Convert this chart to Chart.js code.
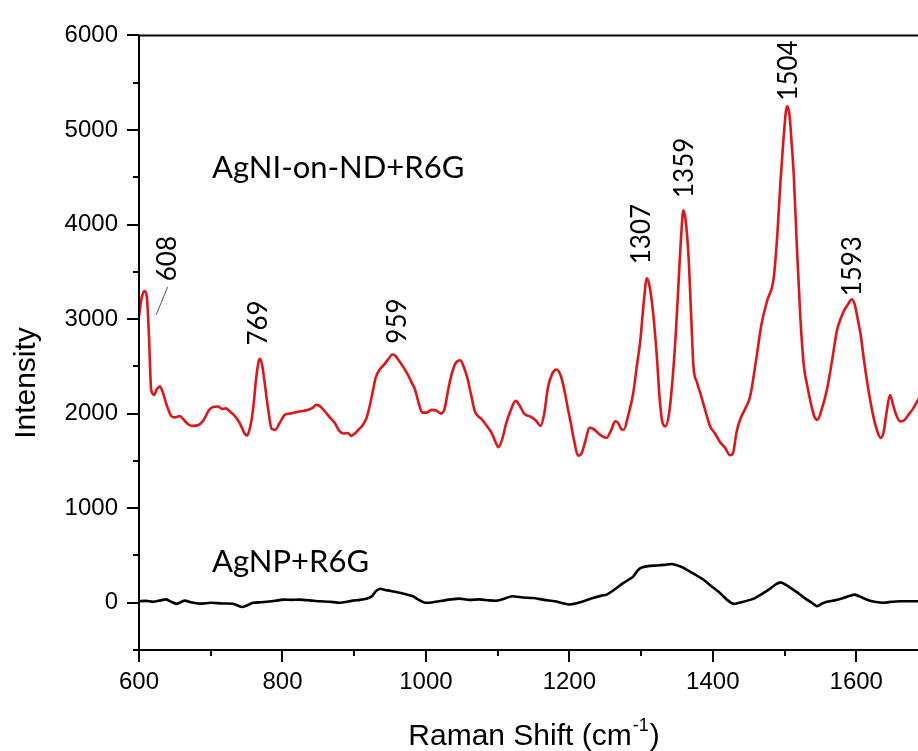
<!DOCTYPE html>
<html>
<head>
<meta charset="utf-8">
<script src="https://cdn.jsdelivr.net/npm/chart.js@4/dist/chart.umd.min.js"></script>
<style>
html,body{margin:0;padding:0;background:#fff;overflow:hidden;}
#clip{width:918px;height:751px;overflow:hidden;}
#wrap{width:960px;height:751px;position:relative;}
</style>
</head>
<body>
<div id="clip"><div id="wrap"><canvas id="c"></canvas></div></div>
<script>
// ---- data ----
const agniShift = [600,603,606,608,611,614,617,621,625,629,633,637,641,645,650,657,663,669,675,683,690,697,703,710,716,721,727,733,738,743,748,751,755,759,763,767,769,772,776,780,785,790,796,803,810,822,830,836,842,847,852,859,866,873,879,885,891,896,901,906,912,917,921,925,930,936,942,948,953,957,961,967,975,980,985,990,995,1001,1008,1015,1021,1026,1031,1036,1042,1048,1053,1058,1063,1068,1072,1078,1084,1092,1097,1101,1106,1112,1118,1125,1131,1137,1145,1153,1160,1165,1170,1176,1182,1188,1193,1198,1202,1207,1212,1217,1222,1228,1233,1240,1246,1252,1258,1264,1268,1272,1276,1282,1289,1294,1299,1304,1308,1312,1317,1322,1326,1330,1334,1339,1343,1348,1352,1356,1359,1362,1366,1370,1373,1378,1384,1390,1396,1403,1410,1417,1424,1428,1433,1438,1445,1452,1460,1468,1476,1485,1490,1494,1498,1502,1504,1507,1510,1513,1517,1522,1527,1531,1537,1542,1546,1552,1559,1566,1573,1578,1583,1588,1594,1598,1602,1606,1611,1617,1623,1629,1634,1638,1642,1647,1651,1656,1661,1667,1673,1679,1686,1692];
const agniIntensity = [3030,3200,3280,3295,3230,2800,2250,2200,2260,2285,2230,2130,2040,1975,1960,1975,1930,1885,1870,1880,1930,2030,2070,2075,2050,2055,2020,1980,1930,1860,1780,1770,1860,2040,2350,2560,2580,2500,2280,2050,1840,1830,1900,1985,2000,2020,2030,2040,2060,2092,2080,2025,1960,1900,1820,1790,1795,1765,1790,1830,1880,1950,2060,2200,2380,2470,2520,2580,2625,2615,2575,2510,2410,2330,2250,2110,2010,2010,2040,2030,2000,2050,2250,2420,2540,2565,2490,2370,2200,2030,1980,1940,1880,1790,1700,1645,1720,1900,2030,2135,2080,2000,1970,1930,1870,2000,2270,2420,2466,2400,2250,2050,1900,1700,1555,1580,1700,1850,1840,1795,1760,1745,1820,1920,1900,1840,1830,1980,2215,2500,2780,3200,3430,3340,3050,2600,2150,1900,1866,2000,2285,2800,3350,3900,4150,4050,3680,3000,2500,2330,2180,2020,1870,1790,1700,1640,1560,1580,1800,1935,2050,2180,2550,2950,3200,3440,3900,4414,4850,5200,5250,5150,4850,4500,3800,3020,2500,2320,2100,1960,1935,2050,2249,2550,2877,3000,3090,3150,3210,3150,3000,2840,2550,2249,2000,1820,1743,1800,2000,2197,2100,1980,1918,1930,1990,2050,2144,2230];

const agnpShift = [600,610,620,630,638,645,652,658,664,672,685,700,715,731,743,750,759,770,778,790,801,812,824,838,852,866,880,890,898,908,917,925,930,936,943,950,960,972,982,990,999,1010,1024,1035,1047,1060,1075,1088,1099,1110,1120,1135,1150,1165,1180,1190,1201,1215,1233,1245,1252,1263,1275,1282,1289,1295,1301,1312,1322,1333,1343,1354,1364,1375,1387,1398,1410,1420,1429,1440,1457,1468,1478,1486,1494,1502,1512,1521,1531,1538,1545,1552,1559,1570,1582,1590,1598,1608,1619,1630,1638,1650,1661,1675,1686,1695];
const agnpIntensity = [15,20,10,25,35,10,-12,5,22,5,-10,0,-8,-10,-45,-30,0,5,10,20,33,30,33,25,15,10,0,10,22,30,43,70,120,148,135,127,110,90,68,30,0,5,22,35,43,30,35,25,22,45,68,55,50,30,15,-5,-19,5,50,75,86,140,207,240,276,340,372,390,393,400,410,385,348,300,243,175,103,30,-12,5,43,90,138,185,215,190,138,90,33,0,-37,-10,10,25,50,70,86,55,22,5,0,10,15,15,15,15];

const seriesNames = ['AgNI-on-ND+R6G', 'AgNP+R6G'];
const xTickValues = [600,800,1000,1200,1400,1600];
const yTickValues = [0,1000,2000,3000,4000,5000,6000];
const peakLabels = ['608','769','959','1307','1359','1504','1593'];
const peakLabelShift = [640,767,961,1301,1361,1505,1595];
const peakLabelIntensity = [3400,2720,2740,3580,4280,5310,3240];

// ---- chart ----
Chart.defaults.font.family = "'Liberation Sans', Arial, sans-serif";
Chart.defaults.color = '#000';

const toXY = (xs, ys) => xs.map((x, i) => ({x, y: ys[i]}));

const decor = {
  id: 'decor',
  afterDraw(chart) {
    const ctx = chart.ctx, a = chart.chartArea, xs = chart.scales.x, ys = chart.scales.y;
    ctx.save();
    ctx.strokeStyle = '#000';
    ctx.lineWidth = 2;
    ctx.lineCap = 'butt';
    ctx.beginPath();
    ctx.moveTo(a.left, a.top); ctx.lineTo(a.right, a.top);
    ctx.moveTo(a.left, a.top - 1); ctx.lineTo(a.left, a.bottom + 1);
    ctx.moveTo(a.left - 1, a.bottom); ctx.lineTo(a.right, a.bottom);
    for (let v = -500; v <= 6000; v += 500) {
      const y = Math.round(ys.getPixelForValue(v));
      const len = v % 1000 === 0 ? 12 : 6;
      ctx.moveTo(a.left - len, y); ctx.lineTo(a.left, y);
    }
    for (let v = 600; v <= 1700; v += 100) {
      const x = Math.round(xs.getPixelForValue(v));
      const len = v % 200 === 0 ? 12 : 6;
      ctx.moveTo(x, a.bottom); ctx.lineTo(x, a.bottom + len);
    }
    ctx.stroke();

    // axis titles
    ctx.fillStyle = '#000';
    ctx.font = "30px 'Liberation Sans', Arial, sans-serif";
    ctx.textAlign = 'center';
    ctx.textBaseline = 'alphabetic';
    ctx.save();
    ctx.translate(35, 383);
    ctx.rotate(-Math.PI / 2);
    ctx.fillText('Intensity', 0, 0);
    ctx.restore();

    const t1 = 'Raman Shift (cm', t2 = '-1', t3 = ')';
    ctx.font = "30px 'Liberation Sans', Arial, sans-serif";
    const w1 = ctx.measureText(t1).width, w3 = ctx.measureText(t3).width;
    ctx.font = "18px 'Liberation Sans', Arial, sans-serif";
    const w2 = ctx.measureText(t2).width;
    const total = w1 + w2 + w3 + 2;
    let x0 = 534 - total / 2;
    const base = 745;
    ctx.textAlign = 'left';
    ctx.font = "30px 'Liberation Sans', Arial, sans-serif";
    ctx.fillText(t1, x0, base);
    ctx.font = "18px 'Liberation Sans', Arial, sans-serif";
    ctx.fillText(t2, x0 + w1 + 1, base - 14);
    ctx.font = "30px 'Liberation Sans', Arial, sans-serif";
    ctx.fillText(t3, x0 + w1 + w2 + 2, base);

    // series labels
    ctx.font = "31px Lato, 'Open Sans', sans-serif";
    ctx.fillText(seriesNames[0], 212, 178);
    ctx.fillText(seriesNames[1], 212, 572);

    // peak labels
    ctx.font = "26px Lato, 'Open Sans', sans-serif";
    ctx.textBaseline = 'middle';
    peakLabels.forEach((lab, i) => {
      const px = xs.getPixelForValue(peakLabelShift[i]);
      const py = ys.getPixelForValue(peakLabelIntensity[i]);
      ctx.save();
      ctx.translate(px, py);
      ctx.rotate(-Math.PI / 2);
      ctx.textAlign = 'left';
      ctx.fillText(lab, 0, 0);
      ctx.restore();
    });
    // leader line for 608
    ctx.strokeStyle = '#555';
    ctx.lineWidth = 1;
    ctx.beginPath();
    ctx.moveTo(xs.getPixelForValue(624), ys.getPixelForValue(3045));
    ctx.lineTo(xs.getPixelForValue(640), ys.getPixelForValue(3340));
    ctx.stroke();
    ctx.restore();
  }
};

new Chart(document.getElementById('c'), {
  type: 'line',
  data: {
    datasets: [
      {
        label: seriesNames[0],
        data: toXY(agniShift, agniIntensity),
        borderColor: 'rgb(226,20,24)',
        borderWidth: 2.6,
        pointRadius: 0,
        cubicInterpolationMode: 'monotone',
        fill: false
      },
      {
        label: seriesNames[1],
        data: toXY(agnpShift, agnpIntensity),
        borderColor: '#000',
        borderWidth: 2.6,
        pointRadius: 0,
        tension: 0.2,
        fill: false
      }
    ]
  },
  options: {
    animation: false,
    responsive: true,
    maintainAspectRatio: false,
    devicePixelRatio: 1,
    layout: { padding: { top: 28, right: 32, left: 0, bottom: 0 } },
    plugins: { legend: { display: false }, tooltip: { enabled: false } },
    scales: {
      x: {
        type: 'linear',
        min: 600, max: 1700,
        grid: { display: false, drawTicks: false },
        border: { display: false },
        afterBuildTicks: s => { s.ticks = xTickValues.map(v => ({ value: v })); },
        afterFit: s => { s.height = 101; },
        ticks: { padding: 18, font: { size: 24 }, color: '#000', maxRotation: 0, autoSkip: false, callback: v => String(v) }
      },
      y: {
        type: 'linear',
        min: -500, max: 6000,
        grid: { display: false, drawTicks: false },
        border: { display: false },
        afterBuildTicks: s => { s.ticks = yTickValues.map(v => ({ value: v })); },
        afterFit: s => { s.width = 139; },
        ticks: { padding: 21, font: { size: 24 }, color: '#000', autoSkip: false, callback: v => String(v) }
      }
    }
  },
  plugins: [decor]
});
</script>
</body>
</html>
